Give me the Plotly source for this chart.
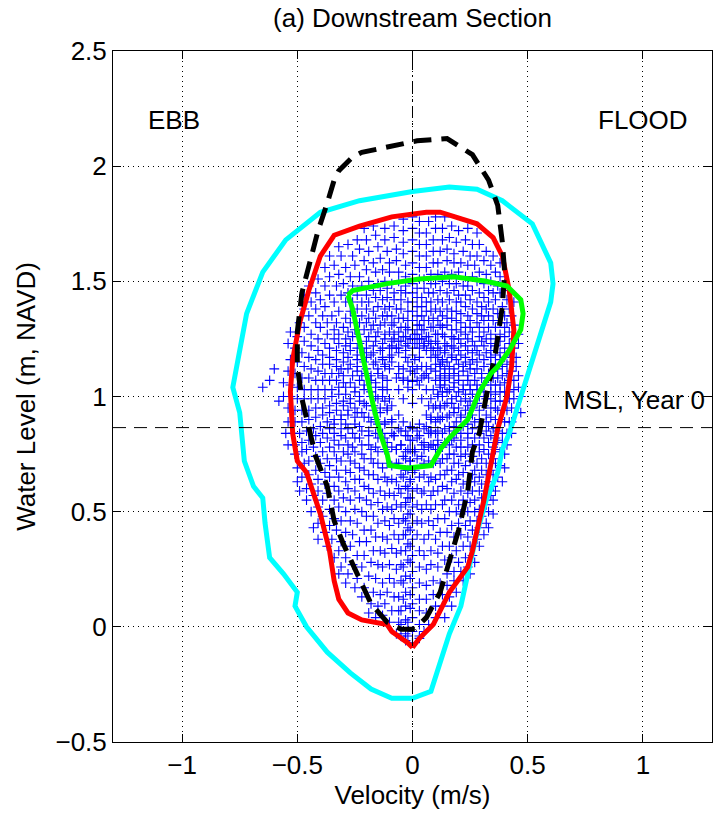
import plotly.graph_objects as go

# ---------------- envelope contours ----------------
cyan_x = [0.00,0.16,0.28,0.39,0.52,0.60,0.61,0.60,0.54,0.47,0.42,0.39,0.37,0.32,0.28,0.24,0.21,0.16,0.12,0.11,0.08,0.00,-0.09,-0.18,-0.27,-0.37,-0.46,-0.51,-0.50,-0.56,-0.62,-0.64,-0.65,-0.69,-0.73,-0.75,-0.78,-0.72,-0.65,-0.55,-0.40,-0.23,0.00]
cyan_y = [1.89,1.91,1.90,1.85,1.75,1.58,1.49,1.41,1.22,1.00,0.84,0.77,0.67,0.55,0.41,0.23,0.09,-0.03,-0.16,-0.19,-0.28,-0.31,-0.31,-0.27,-0.20,-0.11,0.00,0.09,0.15,0.23,0.30,0.45,0.56,0.61,0.72,0.93,1.04,1.36,1.54,1.68,1.80,1.85,1.89]

red_x = [0.00,-0.02,-0.09,-0.11,-0.22,-0.28,-0.32,-0.34,-0.36,-0.40,-0.46,-0.50,-0.52,-0.53,-0.52,-0.49,-0.45,-0.40,-0.34,-0.23,-0.09,0.06,0.12,0.18,0.28,0.35,0.39,0.42,0.44,0.43,0.41,0.37,0.34,0.31,0.26,0.24,0.16,0.09,0.03,0.00]
red_y = [-0.09,-0.07,-0.02,0.01,0.03,0.06,0.12,0.20,0.33,0.49,0.67,0.72,0.84,1.02,1.16,1.32,1.46,1.61,1.70,1.74,1.78,1.80,1.80,1.78,1.75,1.69,1.61,1.46,1.29,1.13,1.00,0.86,0.71,0.55,0.33,0.26,0.15,0.01,-0.05,-0.09]

black_x = [0.01,-0.05,-0.11,-0.18,-0.24,-0.30,-0.34,-0.37,-0.42,-0.45,-0.48,-0.50,-0.50,-0.48,-0.45,-0.41,-0.37,-0.34,-0.32,-0.26,-0.22,-0.13,-0.07,0.02,0.15,0.18,0.26,0.33,0.37,0.39,0.40,0.39,0.36,0.32,0.29,0.26,0.24,0.20,0.16,0.12,0.06,0.01]
black_y = [-0.01,-0.01,0.02,0.10,0.23,0.36,0.46,0.61,0.74,0.87,0.99,1.13,1.28,1.45,1.56,1.72,1.84,1.94,1.98,2.04,2.06,2.08,2.09,2.11,2.12,2.10,2.05,1.94,1.83,1.67,1.54,1.39,1.19,1.00,0.84,0.76,0.59,0.42,0.28,0.15,0.04,-0.01]

green_x = [-0.28,-0.26,-0.11,0.03,0.18,0.32,0.41,0.47,0.48,0.47,0.42,0.37,0.34,0.29,0.24,0.16,0.12,0.09,0.08,-0.02,-0.10,-0.11,-0.13,-0.14,-0.17,-0.20,-0.23,-0.26,-0.28]
green_y = [1.44,1.46,1.49,1.51,1.52,1.50,1.48,1.42,1.36,1.29,1.20,1.13,1.10,1.02,0.90,0.82,0.77,0.72,0.70,0.69,0.70,0.75,0.81,0.84,0.96,1.10,1.26,1.38,1.44]

# ---------------- observed stage-velocity loops (blue crosses) ----------------
L1_x = [0.00,0.14,0.25,0.33,0.39,0.43,0.46,0.46,0.44,0.38,0.28,0.14,0.00,-0.17,-0.32,-0.45,-0.53,-0.56,-0.55,-0.50,-0.43,-0.32,-0.19,-0.07]
L1_y = [-0.07,0.04,0.23,0.43,0.63,0.84,1.04,1.23,1.41,1.58,1.71,1.78,1.78,1.74,1.65,1.48,1.28,1.06,0.84,0.63,0.43,0.23,0.06,-0.03]
L1c_x = [0.03,0.17,0.27,0.35,0.40,0.43,0.46,0.46,0.42,0.35,0.24,0.10,-0.04,-0.21,-0.36,-0.47,-0.54,-0.56,-0.54,-0.49,-0.41,-0.29,-0.16,-0.05]
L1c_y = [-0.04,0.09,0.28,0.49,0.69,0.89,1.09,1.27,1.46,1.61,1.73,1.78,1.77,1.73,1.61,1.44,1.23,1.00,0.79,0.59,0.38,0.19,0.04,-0.04]
M1_x = [0.07,0.19,0.29,0.35,0.40,0.43,0.45,0.44,0.40,0.32,0.20,0.07,-0.08,-0.24,-0.38,-0.47,-0.53,-0.54,-0.51,-0.46,-0.37,-0.25,-0.13,-0.03]
M1_y = [0.01,0.15,0.35,0.55,0.75,0.95,1.13,1.31,1.49,1.63,1.72,1.76,1.74,1.68,1.56,1.38,1.16,0.95,0.75,0.55,0.35,0.17,0.05,-0.03]
M1d_x = [0.10,0.22,0.31,0.36,0.41,0.44,0.45,0.43,0.38,0.29,0.17,0.03,-0.12,-0.28,-0.41,-0.49,-0.54,-0.54,-0.50,-0.44,-0.34,-0.22,-0.10,-0.02]
M1d_y = [0.04,0.20,0.40,0.59,0.79,0.99,1.17,1.35,1.52,1.66,1.74,1.76,1.73,1.66,1.51,1.32,1.11,0.89,0.69,0.50,0.30,0.13,0.02,-0.04]
L2_x = [0.00,0.13,0.24,0.32,0.37,0.41,0.44,0.44,0.42,0.36,0.26,0.13,0.00,-0.16,-0.31,-0.42,-0.50,-0.53,-0.52,-0.48,-0.41,-0.31,-0.18,-0.06]
L2_y = [-0.02,0.09,0.26,0.45,0.65,0.84,1.03,1.21,1.38,1.54,1.66,1.73,1.73,1.70,1.61,1.45,1.26,1.05,0.84,0.65,0.45,0.26,0.10,0.02]
L2c_x = [0.03,0.16,0.26,0.33,0.38,0.42,0.44,0.44,0.41,0.34,0.23,0.10,-0.04,-0.20,-0.34,-0.44,-0.51,-0.53,-0.51,-0.46,-0.38,-0.28,-0.15,-0.05]
L2c_y = [0.01,0.13,0.31,0.50,0.70,0.89,1.07,1.25,1.42,1.57,1.68,1.73,1.72,1.68,1.57,1.41,1.21,1.00,0.79,0.60,0.41,0.23,0.09,0.01]
M2_x = [0.06,0.18,0.28,0.34,0.38,0.41,0.43,0.42,0.38,0.31,0.19,0.06,-0.08,-0.23,-0.36,-0.45,-0.50,-0.51,-0.48,-0.43,-0.35,-0.24,-0.12,-0.03]
M2_y = [0.06,0.20,0.38,0.57,0.76,0.94,1.11,1.28,1.45,1.59,1.67,1.71,1.69,1.64,1.52,1.35,1.15,0.94,0.76,0.57,0.38,0.21,0.10,0.03]
M2d_x = [0.10,0.21,0.29,0.35,0.39,0.42,0.43,0.41,0.37,0.28,0.16,0.03,-0.12,-0.26,-0.38,-0.47,-0.51,-0.51,-0.47,-0.41,-0.32,-0.21,-0.09,-0.02]
M2d_y = [0.09,0.24,0.43,0.61,0.80,0.99,1.15,1.32,1.48,1.61,1.69,1.71,1.68,1.61,1.48,1.30,1.10,0.89,0.71,0.52,0.33,0.17,0.07,0.02]
L3_x = [0.00,0.13,0.23,0.30,0.35,0.39,0.42,0.42,0.40,0.34,0.25,0.13,0.00,-0.15,-0.29,-0.40,-0.47,-0.50,-0.49,-0.45,-0.39,-0.29,-0.17,-0.06]
L3_y = [0.04,0.14,0.30,0.48,0.66,0.84,1.02,1.19,1.35,1.50,1.61,1.68,1.68,1.65,1.56,1.42,1.24,1.04,0.84,0.66,0.48,0.30,0.15,0.07]
L3c_x = [0.03,0.15,0.25,0.32,0.36,0.40,0.42,0.42,0.39,0.32,0.22,0.09,-0.04,-0.19,-0.32,-0.42,-0.48,-0.50,-0.48,-0.44,-0.36,-0.26,-0.14,-0.05]
L3c_y = [0.07,0.18,0.35,0.53,0.71,0.89,1.07,1.23,1.39,1.53,1.63,1.68,1.67,1.63,1.53,1.38,1.19,0.99,0.80,0.62,0.44,0.27,0.14,0.07]
M3_x = [0.06,0.18,0.26,0.32,0.36,0.39,0.41,0.40,0.36,0.29,0.18,0.06,-0.07,-0.21,-0.33,-0.42,-0.47,-0.48,-0.46,-0.41,-0.33,-0.22,-0.11,-0.03]
M3_y = [0.12,0.24,0.42,0.59,0.77,0.94,1.10,1.26,1.42,1.54,1.62,1.66,1.64,1.59,1.48,1.32,1.13,0.94,0.77,0.59,0.42,0.26,0.15,0.09]
M3d_x = [0.09,0.20,0.28,0.33,0.37,0.40,0.41,0.40,0.35,0.27,0.15,0.03,-0.11,-0.25,-0.36,-0.44,-0.48,-0.48,-0.45,-0.39,-0.31,-0.19,-0.08,-0.01]
M3d_y = [0.14,0.28,0.46,0.63,0.81,0.98,1.14,1.30,1.45,1.57,1.64,1.66,1.63,1.57,1.44,1.27,1.08,0.89,0.72,0.55,0.37,0.22,0.13,0.08]
L4_x = [0.00,0.12,0.22,0.29,0.34,0.37,0.40,0.40,0.38,0.33,0.24,0.12,0.00,-0.14,-0.27,-0.38,-0.44,-0.47,-0.46,-0.42,-0.36,-0.27,-0.16,-0.06]
L4_y = [0.10,0.19,0.35,0.51,0.68,0.85,1.02,1.17,1.32,1.46,1.57,1.63,1.63,1.60,1.52,1.39,1.22,1.03,0.85,0.68,0.51,0.35,0.21,0.13]
L4c_x = [0.03,0.15,0.24,0.30,0.35,0.38,0.40,0.40,0.37,0.31,0.21,0.09,-0.04,-0.17,-0.30,-0.39,-0.45,-0.47,-0.45,-0.41,-0.34,-0.24,-0.13,-0.04]
L4c_y = [0.12,0.23,0.39,0.56,0.73,0.90,1.06,1.21,1.36,1.49,1.58,1.63,1.62,1.58,1.49,1.35,1.17,0.99,0.81,0.64,0.47,0.31,0.19,0.12]
M4_x = [0.06,0.17,0.25,0.30,0.35,0.37,0.39,0.38,0.35,0.28,0.18,0.06,-0.07,-0.20,-0.31,-0.40,-0.44,-0.45,-0.43,-0.38,-0.31,-0.21,-0.10,-0.03]
M4_y = [0.18,0.30,0.46,0.62,0.78,0.94,1.09,1.24,1.38,1.50,1.58,1.61,1.59,1.55,1.44,1.30,1.12,0.94,0.78,0.62,0.46,0.31,0.21,0.15]
M4d_x = [0.09,0.19,0.27,0.32,0.36,0.38,0.39,0.38,0.33,0.26,0.15,0.03,-0.10,-0.23,-0.34,-0.41,-0.45,-0.45,-0.42,-0.37,-0.29,-0.18,-0.08,-0.01]
M4d_y = [0.20,0.33,0.50,0.66,0.82,0.98,1.13,1.27,1.41,1.52,1.59,1.61,1.58,1.52,1.41,1.25,1.08,0.90,0.74,0.58,0.41,0.28,0.19,0.14]
L5_x = [0.00,0.11,0.21,0.27,0.32,0.35,0.38,0.38,0.36,0.31,0.23,0.11,0.00,-0.13,-0.26,-0.35,-0.41,-0.44,-0.43,-0.40,-0.34,-0.26,-0.15,-0.05]
L5_y = [0.17,0.26,0.40,0.55,0.71,0.86,1.02,1.16,1.30,1.43,1.52,1.58,1.58,1.55,1.48,1.35,1.20,1.03,0.86,0.71,0.55,0.40,0.27,0.20]
L5c_x = [0.03,0.14,0.23,0.29,0.33,0.36,0.38,0.38,0.35,0.29,0.20,0.09,-0.03,-0.16,-0.28,-0.37,-0.42,-0.44,-0.42,-0.38,-0.32,-0.23,-0.13,-0.04]
L5c_y = [0.19,0.29,0.44,0.59,0.75,0.90,1.05,1.19,1.33,1.45,1.54,1.58,1.57,1.54,1.45,1.32,1.16,0.99,0.83,0.67,0.52,0.37,0.26,0.19]
M5_x = [0.06,0.16,0.24,0.29,0.33,0.36,0.37,0.36,0.33,0.26,0.17,0.06,-0.06,-0.19,-0.29,-0.37,-0.41,-0.42,-0.40,-0.36,-0.29,-0.20,-0.10,-0.03]
M5_y = [0.25,0.35,0.50,0.65,0.80,0.95,1.08,1.22,1.35,1.46,1.53,1.56,1.54,1.50,1.41,1.27,1.11,0.95,0.80,0.65,0.50,0.37,0.27,0.22]
M5d_x = [0.08,0.18,0.25,0.30,0.34,0.36,0.37,0.36,0.32,0.24,0.14,0.03,-0.10,-0.22,-0.32,-0.38,-0.42,-0.42,-0.39,-0.34,-0.27,-0.17,-0.07,-0.01]
M5d_y = [0.27,0.39,0.54,0.68,0.83,0.98,1.12,1.25,1.38,1.48,1.54,1.56,1.54,1.48,1.37,1.23,1.07,0.91,0.76,0.61,0.46,0.33,0.25,0.21]
L6_x = [0.00,0.11,0.20,0.26,0.30,0.33,0.36,0.36,0.34,0.30,0.22,0.11,0.00,-0.12,-0.24,-0.33,-0.39,-0.41,-0.40,-0.37,-0.32,-0.24,-0.14,-0.05]
L6_y = [0.24,0.32,0.45,0.59,0.73,0.87,1.01,1.14,1.27,1.39,1.48,1.53,1.53,1.50,1.44,1.32,1.18,1.03,0.87,0.73,0.59,0.45,0.33,0.27]
L6c_x = [0.03,0.13,0.21,0.27,0.31,0.34,0.36,0.36,0.33,0.28,0.19,0.08,-0.03,-0.15,-0.26,-0.34,-0.39,-0.41,-0.39,-0.36,-0.30,-0.21,-0.12,-0.04]
L6c_y = [0.26,0.35,0.49,0.63,0.77,0.91,1.05,1.18,1.30,1.41,1.49,1.53,1.52,1.49,1.41,1.29,1.14,0.99,0.84,0.70,0.56,0.42,0.32,0.26]
M6_x = [0.05,0.15,0.22,0.27,0.31,0.34,0.35,0.34,0.31,0.25,0.16,0.05,-0.06,-0.17,-0.27,-0.34,-0.38,-0.39,-0.37,-0.33,-0.27,-0.18,-0.09,-0.02]
M6_y = [0.31,0.41,0.55,0.68,0.82,0.95,1.08,1.20,1.33,1.42,1.49,1.51,1.50,1.46,1.37,1.25,1.10,0.95,0.82,0.68,0.55,0.42,0.34,0.29]
M6d_x = [0.08,0.17,0.24,0.28,0.32,0.34,0.35,0.34,0.30,0.23,0.13,0.03,-0.09,-0.20,-0.29,-0.36,-0.39,-0.39,-0.36,-0.32,-0.25,-0.16,-0.07,-0.01]
M6d_y = [0.33,0.44,0.58,0.71,0.85,0.99,1.11,1.23,1.35,1.44,1.50,1.51,1.49,1.44,1.34,1.21,1.07,0.92,0.78,0.65,0.51,0.39,0.32,0.28]
L7_x = [0.00,0.10,0.19,0.24,0.29,0.32,0.34,0.34,0.32,0.28,0.20,0.10,0.00,-0.11,-0.22,-0.30,-0.36,-0.38,-0.37,-0.34,-0.29,-0.22,-0.13,-0.05]
L7_y = [0.31,0.38,0.50,0.63,0.76,0.89,1.02,1.14,1.25,1.36,1.44,1.49,1.49,1.47,1.41,1.30,1.17,1.03,0.89,0.76,0.63,0.50,0.39,0.33]
L7c_x = [0.03,0.12,0.20,0.26,0.29,0.32,0.34,0.34,0.31,0.26,0.18,0.08,-0.03,-0.14,-0.24,-0.32,-0.36,-0.38,-0.36,-0.33,-0.28,-0.20,-0.11,-0.03]
L7c_y = [0.33,0.41,0.53,0.66,0.79,0.92,1.05,1.17,1.28,1.38,1.46,1.49,1.48,1.46,1.38,1.27,1.14,0.99,0.86,0.73,0.60,0.48,0.38,0.33]
M7_x = [0.05,0.14,0.21,0.25,0.29,0.31,0.33,0.32,0.29,0.23,0.15,0.05,-0.05,-0.16,-0.25,-0.32,-0.35,-0.36,-0.34,-0.31,-0.25,-0.17,-0.08,-0.02]
M7_y = [0.38,0.47,0.59,0.72,0.84,0.96,1.08,1.19,1.30,1.39,1.45,1.47,1.46,1.43,1.35,1.23,1.10,0.96,0.84,0.72,0.59,0.48,0.40,0.36]
M7d_x = [0.07,0.16,0.22,0.26,0.30,0.32,0.33,0.31,0.28,0.21,0.12,0.02,-0.08,-0.19,-0.27,-0.33,-0.36,-0.36,-0.34,-0.29,-0.23,-0.15,-0.06,-0.01]
M7d_y = [0.40,0.50,0.62,0.74,0.87,0.99,1.10,1.22,1.32,1.41,1.46,1.47,1.45,1.41,1.32,1.20,1.07,0.93,0.81,0.68,0.56,0.45,0.38,0.35]
L8_x = [0.00,0.09,0.17,0.22,0.26,0.29,0.31,0.31,0.30,0.25,0.19,0.09,0.00,-0.11,-0.20,-0.28,-0.33,-0.35,-0.34,-0.32,-0.27,-0.20,-0.12,-0.04]
L8_y = [0.38,0.44,0.55,0.67,0.79,0.90,1.02,1.13,1.24,1.33,1.41,1.45,1.45,1.43,1.38,1.28,1.16,1.03,0.90,0.79,0.67,0.55,0.46,0.40]
L8c_x = [0.02,0.11,0.18,0.23,0.27,0.29,0.31,0.31,0.29,0.24,0.16,0.07,-0.03,-0.13,-0.22,-0.29,-0.33,-0.35,-0.34,-0.30,-0.25,-0.18,-0.10,-0.03]
L8c_y = [0.40,0.47,0.58,0.70,0.82,0.94,1.05,1.16,1.26,1.35,1.42,1.45,1.45,1.42,1.35,1.25,1.13,1.00,0.88,0.76,0.64,0.53,0.44,0.40]
M8_x = [0.04,0.13,0.19,0.23,0.26,0.28,0.30,0.29,0.26,0.21,0.13,0.04,-0.05,-0.15,-0.23,-0.29,-0.32,-0.33,-0.31,-0.28,-0.23,-0.15,-0.08,-0.02]
M8_y = [0.45,0.53,0.64,0.75,0.86,0.97,1.08,1.18,1.28,1.36,1.41,1.43,1.42,1.39,1.32,1.22,1.10,0.97,0.86,0.75,0.64,0.54,0.47,0.43]
M8d_x = [0.07,0.14,0.20,0.24,0.27,0.29,0.30,0.28,0.25,0.19,0.11,0.02,-0.08,-0.17,-0.25,-0.30,-0.33,-0.33,-0.31,-0.27,-0.21,-0.13,-0.06,-0.01]
M8d_y = [0.46,0.55,0.66,0.78,0.89,1.00,1.10,1.20,1.30,1.37,1.42,1.43,1.42,1.37,1.29,1.19,1.07,0.94,0.83,0.72,0.61,0.51,0.45,0.42]
L9_x = [0.00,0.08,0.15,0.20,0.24,0.26,0.28,0.28,0.27,0.23,0.17,0.08,0.00,-0.10,-0.19,-0.26,-0.30,-0.32,-0.31,-0.29,-0.25,-0.19,-0.11,-0.04]
L9_y = [0.45,0.51,0.60,0.71,0.82,0.92,1.03,1.12,1.22,1.30,1.37,1.41,1.41,1.39,1.34,1.26,1.15,1.04,0.92,0.82,0.71,0.60,0.52,0.47]
L9c_x = [0.02,0.10,0.17,0.21,0.24,0.26,0.28,0.28,0.26,0.21,0.15,0.06,-0.02,-0.12,-0.20,-0.27,-0.31,-0.32,-0.31,-0.28,-0.23,-0.17,-0.09,-0.03]
L9c_y = [0.46,0.53,0.63,0.74,0.84,0.95,1.05,1.15,1.24,1.32,1.38,1.41,1.41,1.38,1.32,1.23,1.12,1.01,0.90,0.79,0.69,0.58,0.51,0.46]
M9_x = [0.04,0.11,0.17,0.21,0.24,0.25,0.27,0.26,0.24,0.19,0.12,0.04,-0.05,-0.13,-0.21,-0.27,-0.30,-0.30,-0.29,-0.26,-0.21,-0.14,-0.07,-0.02]
M9_y = [0.51,0.59,0.68,0.78,0.88,0.98,1.07,1.16,1.25,1.33,1.37,1.39,1.38,1.35,1.29,1.20,1.09,0.98,0.88,0.78,0.68,0.59,0.53,0.49]
M9d_x = [0.06,0.13,0.18,0.21,0.24,0.26,0.27,0.26,0.23,0.17,0.10,0.02,-0.07,-0.16,-0.23,-0.28,-0.30,-0.30,-0.28,-0.25,-0.19,-0.12,-0.05,-0.01]
M9d_y = [0.53,0.61,0.71,0.81,0.91,1.01,1.10,1.19,1.27,1.34,1.38,1.39,1.38,1.34,1.27,1.17,1.06,0.96,0.86,0.76,0.66,0.57,0.52,0.49]
L10_x = [0.00,0.08,0.14,0.18,0.21,0.23,0.25,0.25,0.24,0.21,0.15,0.08,0.00,-0.09,-0.17,-0.23,-0.27,-0.29,-0.28,-0.26,-0.22,-0.17,-0.10,-0.03]
L10_y = [0.52,0.57,0.66,0.75,0.84,0.94,1.03,1.12,1.20,1.28,1.34,1.37,1.37,1.35,1.31,1.23,1.14,1.04,0.94,0.84,0.75,0.66,0.58,0.54]
L10c_x = [0.02,0.09,0.15,0.19,0.22,0.24,0.25,0.25,0.23,0.19,0.13,0.06,-0.02,-0.11,-0.18,-0.24,-0.28,-0.29,-0.28,-0.25,-0.21,-0.15,-0.08,-0.03]
L10c_y = [0.53,0.59,0.68,0.78,0.87,0.96,1.05,1.14,1.22,1.29,1.35,1.37,1.37,1.35,1.29,1.21,1.12,1.01,0.92,0.82,0.73,0.64,0.57,0.53]
M10_x = [0.04,0.10,0.15,0.18,0.21,0.23,0.24,0.23,0.21,0.17,0.11,0.04,-0.04,-0.12,-0.19,-0.24,-0.26,-0.27,-0.25,-0.23,-0.18,-0.12,-0.06,-0.02]
M10_y = [0.58,0.64,0.73,0.82,0.91,0.99,1.07,1.15,1.23,1.29,1.33,1.35,1.34,1.32,1.26,1.18,1.09,0.99,0.91,0.82,0.73,0.65,0.60,0.56]
M10d_x = [0.05,0.12,0.16,0.19,0.21,0.23,0.24,0.23,0.20,0.15,0.09,0.02,-0.06,-0.14,-0.20,-0.24,-0.27,-0.27,-0.25,-0.22,-0.17,-0.11,-0.05,-0.01]
M10d_y = [0.59,0.66,0.75,0.84,0.92,1.01,1.09,1.17,1.25,1.31,1.34,1.35,1.34,1.31,1.24,1.16,1.06,0.97,0.88,0.79,0.71,0.63,0.58,0.56]
L11_x = [0.00,0.07,0.12,0.16,0.18,0.20,0.22,0.22,0.21,0.18,0.13,0.07,0.00,-0.08,-0.15,-0.20,-0.24,-0.25,-0.25,-0.23,-0.19,-0.15,-0.09,-0.03]
L11_y = [0.59,0.63,0.71,0.79,0.87,0.95,1.03,1.11,1.18,1.25,1.30,1.33,1.33,1.32,1.28,1.21,1.13,1.04,0.95,0.87,0.79,0.71,0.64,0.61]
L11c_x = [0.02,0.08,0.13,0.17,0.19,0.21,0.22,0.22,0.20,0.17,0.12,0.05,-0.02,-0.09,-0.16,-0.21,-0.24,-0.25,-0.24,-0.22,-0.18,-0.13,-0.07,-0.02]
L11c_y = [0.60,0.65,0.73,0.81,0.89,0.98,1.05,1.13,1.20,1.26,1.31,1.33,1.33,1.31,1.26,1.19,1.11,1.02,0.93,0.85,0.77,0.69,0.63,0.60]
M11_x = [0.03,0.09,0.13,0.16,0.18,0.19,0.20,0.20,0.18,0.14,0.09,0.03,-0.03,-0.10,-0.16,-0.20,-0.22,-0.23,-0.22,-0.19,-0.16,-0.11,-0.05,-0.01]
M11_y = [0.65,0.71,0.78,0.85,0.93,1.00,1.07,1.14,1.21,1.26,1.30,1.31,1.30,1.28,1.24,1.17,1.09,1.00,0.93,0.85,0.78,0.71,0.66,0.64]
M11d_x = [0.05,0.10,0.14,0.16,0.18,0.20,0.20,0.19,0.17,0.13,0.08,0.02,-0.05,-0.12,-0.17,-0.21,-0.23,-0.23,-0.21,-0.19,-0.15,-0.09,-0.04,-0.01]
M11d_y = [0.66,0.72,0.80,0.87,0.95,1.02,1.09,1.16,1.22,1.27,1.30,1.31,1.30,1.27,1.22,1.15,1.07,0.98,0.91,0.83,0.76,0.70,0.65,0.63]
L12_x = [0.00,0.05,0.10,0.13,0.15,0.17,0.18,0.18,0.17,0.15,0.11,0.05,0.00,-0.06,-0.12,-0.17,-0.20,-0.21,-0.21,-0.19,-0.16,-0.12,-0.07,-0.03]
L12_y = [0.67,0.71,0.77,0.84,0.91,0.97,1.04,1.10,1.17,1.22,1.27,1.29,1.29,1.28,1.25,1.19,1.12,1.05,0.97,0.91,0.84,0.77,0.71,0.68]
L12c_x = [0.01,0.07,0.11,0.14,0.16,0.17,0.18,0.18,0.17,0.14,0.10,0.04,-0.02,-0.08,-0.13,-0.18,-0.20,-0.21,-0.20,-0.18,-0.15,-0.11,-0.06,-0.02]
L12c_y = [0.68,0.72,0.79,0.86,0.92,0.99,1.06,1.12,1.18,1.23,1.27,1.29,1.29,1.27,1.23,1.18,1.10,1.03,0.96,0.89,0.82,0.76,0.71,0.68]
M12_x = [0.02,0.07,0.10,0.12,0.14,0.15,0.16,0.16,0.14,0.11,0.07,0.02,-0.03,-0.08,-0.13,-0.16,-0.18,-0.18,-0.17,-0.16,-0.13,-0.09,-0.04,-0.01]
M12_y = [0.73,0.78,0.84,0.90,0.96,1.02,1.08,1.13,1.19,1.23,1.26,1.27,1.26,1.25,1.21,1.15,1.09,1.02,0.96,0.90,0.84,0.78,0.74,0.72]
M12d_x = [0.04,0.08,0.11,0.13,0.15,0.16,0.16,0.15,0.14,0.10,0.06,0.01,-0.04,-0.09,-0.14,-0.17,-0.18,-0.18,-0.17,-0.15,-0.12,-0.07,-0.03,-0.01]
M12d_y = [0.74,0.79,0.85,0.91,0.97,1.03,1.09,1.15,1.20,1.24,1.26,1.27,1.26,1.24,1.20,1.14,1.07,1.00,0.94,0.88,0.82,0.77,0.73,0.72]
L13_x = [0.00,0.04,0.08,0.10,0.12,0.13,0.14,0.14,0.13,0.12,0.08,0.04,0.00,-0.05,-0.09,-0.13,-0.15,-0.16,-0.16,-0.14,-0.12,-0.09,-0.05,-0.02]
L13_y = [0.76,0.79,0.84,0.89,0.95,1.00,1.05,1.10,1.15,1.20,1.23,1.25,1.25,1.24,1.22,1.17,1.12,1.06,1.00,0.95,0.89,0.84,0.79,0.77]
L13c_x = [0.01,0.05,0.08,0.11,0.12,0.13,0.14,0.14,0.13,0.11,0.07,0.03,-0.01,-0.06,-0.10,-0.13,-0.15,-0.16,-0.15,-0.14,-0.12,-0.08,-0.05,-0.01]
L13c_y = [0.77,0.80,0.85,0.91,0.96,1.02,1.07,1.12,1.16,1.21,1.24,1.25,1.25,1.24,1.21,1.16,1.10,1.04,0.99,0.93,0.88,0.83,0.79,0.77]
M13_x = [0.02,0.05,0.08,0.09,0.11,0.12,0.12,0.12,0.11,0.09,0.05,0.02,-0.02,-0.06,-0.09,-0.12,-0.13,-0.13,-0.13,-0.11,-0.09,-0.06,-0.03,-0.01]
M13_y = [0.82,0.86,0.90,0.95,1.00,1.04,1.08,1.13,1.17,1.20,1.22,1.23,1.23,1.21,1.18,1.14,1.09,1.04,1.00,0.95,0.90,0.86,0.83,0.81]
M13d_x = [0.03,0.06,0.08,0.10,0.11,0.12,0.12,0.12,0.10,0.08,0.05,0.01,-0.03,-0.07,-0.10,-0.12,-0.13,-0.13,-0.12,-0.11,-0.09,-0.05,-0.02,0.00]
M13d_y = [0.83,0.87,0.91,0.96,1.01,1.05,1.09,1.14,1.18,1.21,1.23,1.23,1.22,1.21,1.17,1.13,1.08,1.03,0.98,0.94,0.89,0.85,0.83,0.81]
L14_x = [0.00,0.03,0.06,0.07,0.08,0.09,0.10,0.10,0.10,0.08,0.06,0.03,0.00,-0.03,-0.06,-0.09,-0.10,-0.11,-0.11,-0.10,-0.09,-0.06,-0.04,-0.01]
L14_y = [0.86,0.88,0.92,0.96,0.99,1.03,1.07,1.11,1.14,1.17,1.20,1.21,1.21,1.20,1.19,1.15,1.12,1.07,1.03,0.99,0.96,0.92,0.89,0.87]
core1_x = [0.00,0.04,0.06,0.07,0.06,0.03,0.00,-0.03,-0.06,-0.07,-0.06,-0.04]
core1_y = [0.97,0.99,1.03,1.08,1.13,1.17,1.18,1.17,1.13,1.08,1.03,0.99]
core2_x = [0.00,0.03,0.05,0.04,0.01,-0.02,-0.04,-0.04,-0.02]
core2_y = [1.03,1.05,1.09,1.13,1.16,1.15,1.12,1.07,1.04]
core3_x = [0.01,0.02,0.00,-0.01]
core3_y = [1.10,1.12,1.13,1.11]
smile_x = [-0.06,-0.04,-0.02,0.00,0.02,0.04,0.06,0.08]
smile_y = [1.10,1.08,1.07,1.065,1.07,1.08,1.10,1.12]
ellipse_x = [-0.11,-0.07,-0.03,0.01,0.05,0.09,0.11,0.07,0.02,-0.03,-0.08]
ellipse_y = [0.80,0.77,0.76,0.76,0.77,0.79,0.81,0.84,0.85,0.85,0.83]
stray_x = [-0.62,-0.65,-0.60,-0.58,0.47,0.47,0.00,0.03,-0.03,0.05]
stray_y = [1.07,1.04,1.12,0.98,1.00,0.93,-0.07,-0.05,-0.06,-0.02]

# ---------------- axes / annotations ----------------
x_ticks = [-1, -0.5, 0, 0.5, 1]
x_tick_labels = ["\u22121", "\u22120.5", "0", "0.5", "1"]
y_ticks = [-0.5, 0, 0.5, 1, 1.5, 2, 2.5]
y_tick_labels = ["\u22120.5", "0", "0.5", "1", "1.5", "2", "2.5"]
x_range = [-1.3, 1.3]
y_range = [-0.5, 2.5]
msl_level = 0.865

loops_x = [L1_x, L1c_x, M1_x, M1d_x, L2_x, L2c_x, M2_x, M2d_x, L3_x, L3c_x, M3_x, M3d_x,
           L4_x, L4c_x, M4_x, M4d_x, L5_x, L5c_x, M5_x, M5d_x, L6_x, L6c_x, M6_x, M6d_x,
           L7_x, L7c_x, M7_x, M7d_x, L8_x, L8c_x, M8_x, M8d_x, L9_x, L9c_x, M9_x, M9d_x,
           L10_x, L10c_x, M10_x, M10d_x, L11_x, L11c_x, M11_x, M11d_x, L12_x, L12c_x,
           M12_x, M12d_x, L13_x, L13c_x, M13_x, M13d_x, L14_x, core1_x, core2_x, core3_x,
           smile_x, ellipse_x, stray_x]
loops_y = [L1_y, L1c_y, M1_y, M1d_y, L2_y, L2c_y, M2_y, M2d_y, L3_y, L3c_y, M3_y, M3d_y,
           L4_y, L4c_y, M4_y, M4d_y, L5_y, L5c_y, M5_y, M5d_y, L6_y, L6c_y, M6_y, M6d_y,
           L7_y, L7c_y, M7_y, M7d_y, L8_y, L8c_y, M8_y, M8d_y, L9_y, L9c_y, M9_y, M9d_y,
           L10_y, L10c_y, M10_y, M10d_y, L11_y, L11c_y, M11_y, M11d_y, L12_y, L12c_y,
           M12_y, M12d_y, L13_y, L13c_y, M13_y, M13d_y, L14_y, core1_y, core2_y, core3_y,
           smile_y, ellipse_y, stray_y]
blue_x = [v for seq in loops_x for v in seq]
blue_y = [v for seq in loops_y for v in seq]

FONT = "Liberation Sans, Arial, Helvetica, sans-serif"
FS = 26

fig = go.Figure()
fig.add_trace(go.Scatter(x=blue_x, y=blue_y, mode="markers",
                         marker=dict(symbol="cross-thin-open", size=7, color="#0000ff",
                                     line=dict(color="#0000ff", width=1.1)),
                         showlegend=False, hoverinfo="skip"))
fig.add_trace(go.Scatter(x=cyan_x, y=cyan_y, mode="lines",
                         line=dict(color="#00ffff", width=5), showlegend=False))
fig.add_trace(go.Scatter(x=red_x, y=red_y, mode="lines",
                         line=dict(color="#ff0000", width=5), showlegend=False))
fig.add_trace(go.Scatter(x=black_x, y=black_y, mode="lines",
                         line=dict(color="#000000", width=5, dash="18px,10px"), showlegend=False))
fig.add_trace(go.Scatter(x=green_x, y=green_y, mode="lines",
                         line=dict(color="#00ff00", width=5), showlegend=False))
# reference lines
fig.add_trace(go.Scatter(x=[0, 0], y=y_range, mode="lines",
                         line=dict(color="#000000", width=1, dash="12px,5px,2px,5px"),
                         showlegend=False))
fig.add_trace(go.Scatter(x=x_range, y=[msl_level, msl_level], mode="lines",
                         line=dict(color="#000000", width=1, dash="13px,8px"),
                         showlegend=False))
fig.add_trace(go.Scatter(x=[0.655], y=[0.972], mode="text", text=["MSL, Year 0"],
                         textposition="middle right", cliponaxis=True,
                         textfont=dict(family=FONT, size=FS, color="black"),
                         showlegend=False))

axis_common = dict(showline=True, linecolor="black", linewidth=1, mirror="ticks",
                   ticks="inside", ticklen=8, tickcolor="black", zeroline=False,
                   showgrid=True, gridcolor="#000000", gridwidth=1, griddash="1px,4px",
                   tickfont=dict(family=FONT, size=FS, color="black"))

fig.update_layout(
    width=715, height=816,
    margin=dict(l=113, r=3, t=51, b=74),
    paper_bgcolor="white", plot_bgcolor="white",
    font=dict(family=FONT, size=FS, color="black"),
    title=dict(text="(a) Downstream Section", x=0.5, xref="paper", xanchor="center",
               y=1 - 18 / 816, yref="container", yanchor="middle",
               font=dict(family=FONT, size=FS, color="black")),
    xaxis=dict(range=x_range, tickvals=x_ticks, ticktext=x_tick_labels,
               title=dict(text="Velocity (m/s)", standoff=4,
                          font=dict(family=FONT, size=FS)), **axis_common),
    yaxis=dict(range=y_range, tickvals=y_ticks, ticktext=y_tick_labels,
               title=dict(text="Water Level (m, NAVD)", standoff=12,
                          font=dict(family=FONT, size=FS)), **axis_common),
    annotations=[
        dict(x=-1.035, y=2.2, xref="x", yref="y", text="EBB", showarrow=False,
             font=dict(family=FONT, size=FS, color="black")),
        dict(x=1.0, y=2.2, xref="x", yref="y", text="FLOOD", showarrow=False,
             font=dict(family=FONT, size=FS, color="black")),
    ],
)

fig.write_html("out.html")
